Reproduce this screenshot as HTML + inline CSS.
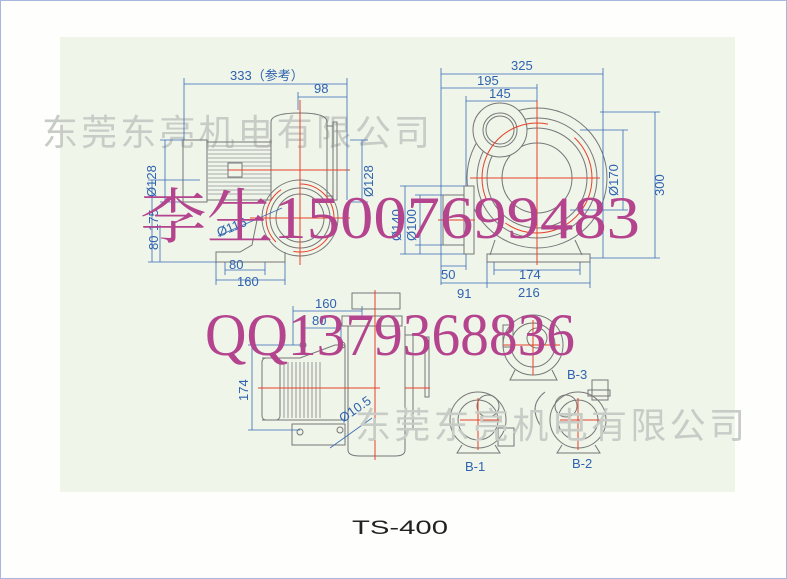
<!DOCTYPE html>
<html><head><meta charset="utf-8"><style>
html,body{margin:0;padding:0;background:#fefefc}
svg{display:block}
</style></head><body>
<svg width="787" height="579" viewBox="0 0 787 579" xmlns="http://www.w3.org/2000/svg" font-family="Liberation Sans, sans-serif">
<rect x="0.5" y="0.5" width="786" height="578" fill="#fefefc" stroke="#a8b8dc"/>
<rect x="60" y="37" width="675" height="455" fill="#eff5e9"/>

<text x="42" y="145" font-size="36" fill="#c8ccc6" font-family="Noto Sans CJK SC, sans-serif" textLength="388" lengthAdjust="spacing">东莞东亮机电有限公司</text>

<g fill="none" stroke="#777" stroke-width="1">
<rect x="183" y="140" width="24" height="62"/>
<rect x="207" y="142" width="64" height="58"/>
<g stroke="#aaa"><path d="M207 146H271M207 150H271M207 154H271M207 158H271M207 162H271M207 166H271M207 170H271M207 174H271M207 178H271M207 182H271M207 186H271M207 190H271M207 194H271"/></g>
<rect x="228" y="163" width="14" height="14" fill="#eff5e9"/>
<path d="M271 200V122Q271 113 300 113Q327 113 327 122V200"/>
<rect x="327" y="126" width="6" height="70"/>
<rect x="333" y="122" width="4" height="78"/>
<circle cx="300" cy="218" r="38"/>
<circle cx="300" cy="218" r="30"/>
<circle cx="300" cy="218" r="24"/>
<path d="M258 215L252 245L240 252H216V262H285V252"/>
<circle cx="537" cy="178" r="70"/>
<circle cx="537" cy="178" r="60"/>
<circle cx="537" cy="178" r="50"/>
<circle cx="537" cy="178" r="35"/>
<circle cx="500" cy="130" r="27" fill="#eff5e9"/>
<circle cx="500" cy="130" r="17"/>
<circle cx="500" cy="130" r="14"/>
<rect x="464" y="186" width="10" height="68" fill="#eff5e9"/>
<rect x="443" y="195" width="21" height="50"/>
<path d="M495 240L490 255M575 240L582 255"/>
<rect x="487" y="254" width="103" height="8"/>
<rect x="352" y="293" width="48" height="16"/>
<rect x="342" y="316" width="60" height="10"/>
<path d="M348 326V450Q348 456 360 456H395Q405 456 405 450V326"/>
<rect x="405" y="335" width="8" height="95"/>
<rect x="425" y="337" width="4" height="60"/>
<path d="M262 358H300L335 345H345V420H300L262 420"/>
<rect x="262" y="358" width="18" height="62" rx="4"/>
<g stroke="#999"><path d="M284 362V418M288 362V418M292 362V418M296 362V418M300 362V418M304 362V418M308 362V418M312 362V418M316 362V418M320 362V418"/></g>
<path d="M292 424H345V445H292Z"/>
<circle cx="303" cy="345" r="3"/><circle cx="342" cy="345" r="3"/>
<circle cx="300" cy="432" r="3"/><circle cx="340" cy="430" r="3"/>
<circle cx="533" cy="345" r="30"/><circle cx="533" cy="345" r="22"/><circle cx="537" cy="338" r="10"/>
<rect x="503" y="325" width="10" height="22"/>
<path d="M515 370L510 380H557L552 370"/>
<circle cx="478" cy="420" r="28"/><circle cx="478" cy="420" r="20"/><circle cx="488" cy="406" r="11"/>
<rect x="498" y="428" width="16" height="18"/>
<path d="M462 445L457 453H500L495 445"/>
<circle cx="578" cy="420" r="28"/><circle cx="578" cy="420" r="20"/><circle cx="566" cy="406" r="11"/>
<rect x="592" y="380" width="16" height="20"/><rect x="588" y="390" width="22" height="6"/>
<path d="M562 445L557 453H600L595 445"/>
<path d="M545 392Q528 405 540 425"/>
</g>

<g stroke="#e8402a" stroke-width="1" fill="none">
<path d="M300 100V265M228 170H350M250 218H350"/>
<circle cx="300" cy="218" r="34" stroke-dasharray="60 20"/>
<path d="M537 100V265M470 178H600M438 220H475"/>
<circle cx="537" cy="178" r="55" stroke-dasharray="120 30"/>
<path d="M375 290V460M258 388H380M405 388H430"/>
<path d="M533 320V375M503 345H560M478 398V450M460 420H500M578 398V450M560 420H600"/>
</g>

<g stroke="#3a6ab8" stroke-width="0.8" fill="none">
<path d="M184 84H347M298 97H347M184 78V140M347 78V200M298 92V110"/>
<path d="M165 140V202M160 140H183M160 202H183"/>
<path d="M362 140V202M350 140H368M350 202H368"/>
<path d="M152 180V262M148 180H200M148 262H216M160 225V262"/>
<path d="M218 236L282 208"/>
<path d="M216 280H285M225 270H265M216 262V285M285 262V285M225 262V275M265 262V275"/>
<path d="M441 74H603M441 88H537M466 101H537M441 68V285M603 68V258M466 96V186M537 84V100"/>
<path d="M655 112V258M600 112H660M590 258H660"/>
<path d="M623 130V210M580 130H628M570 210H628"/>
<path d="M420 195V254M405 186V254M400 186H464M400 254H464M415 195H443M415 245H443"/>
<path d="M441 266H466M441 283H487M494 270H580M487 283H590M466 254V270M487 262V288M590 262V288M494 262V275M580 262V275"/>
<path d="M293 311H362M302 328H341M293 306V345M362 306V320M302 323V345M341 323V345"/>
<path d="M252 345V430M248 345H300M248 430H300"/>
<path d="M330 448L372 418"/>
</g>
<g fill="#2f62b0" font-size="13">
<text x="230" y="80">333（参考）</text>
<text x="314" y="93">98</text>
<text x="511" y="70">325</text>
<text x="477" y="85">195</text>
<text x="489" y="98">145</text>
<text x="441" y="279">50</text>
<text x="457" y="298">91</text>
<text x="519" y="279">174</text>
<text x="518" y="297">216</text>
<text x="229" y="269">80</text>
<text x="237" y="286">160</text>
<text x="315" y="308">160</text>
<text x="312" y="325">80</text>
<text x="567" y="379">B-3</text>
<text x="465" y="471">B-1</text>
<text x="572" y="468">B-2</text>
<text transform="translate(156,197) rotate(-90)">Ø128</text>
<text transform="translate(373,197) rotate(-90)">Ø128</text>
<text transform="translate(158,231) rotate(-90)">175</text>
<text transform="translate(158,250) rotate(-90)">80</text>
<text transform="translate(618,196) rotate(-90)">Ø170</text>
<text transform="translate(664,196) rotate(-90)">300</text>
<text transform="translate(416,241) rotate(-90)">Ø100</text>
<text transform="translate(401,241) rotate(-90)">Ø140</text>
<text transform="translate(248,401) rotate(-90)">174</text>
<text transform="translate(219,237) rotate(-22)">Ø116</text>
<text transform="translate(343,423) rotate(-35)">Ø10.5</text>
</g>

<text x="355" y="438" font-size="36" fill="#c8ccc6" font-family="Noto Sans CJK SC, sans-serif" textLength="390" lengthAdjust="spacing">东莞东亮机电有限公司</text>

<text x="140" y="238" font-size="60" fill="#b4448e" font-family="Liberation Serif, Noto Serif CJK SC, serif" textLength="500" lengthAdjust="spacingAndGlyphs">李生15007699483</text>
<text x="205" y="355" font-size="60" fill="#b4448e" font-family="Liberation Serif, serif" textLength="370" lengthAdjust="spacingAndGlyphs">QQ1379368836</text>

<text x="352" y="534" font-size="19" fill="#222" textLength="96" lengthAdjust="spacingAndGlyphs">TS-400</text>
</svg>
</body></html>
